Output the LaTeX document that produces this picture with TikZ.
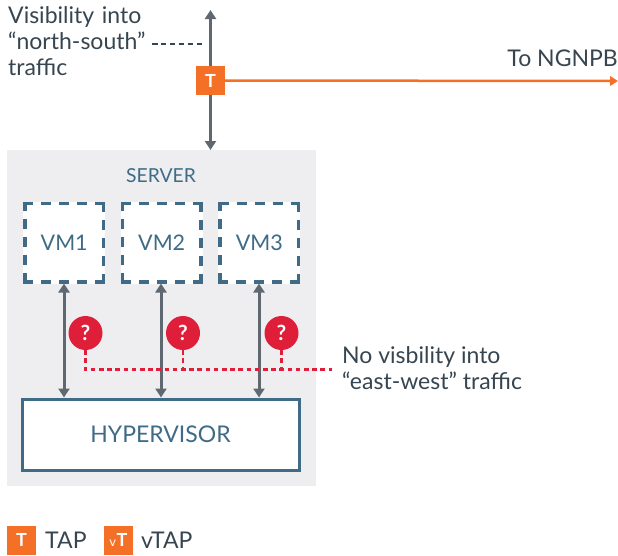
\documentclass[tikz,border=0pt]{standalone}
\usepackage{fontspec}
\setmainfont{Lato}
\usetikzlibrary{arrows.meta,calc}
\definecolor{ink}{HTML}{36454F}
\definecolor{teal}{HTML}{3F6B87}
\definecolor{greyarrow}{HTML}{5F6871}
\definecolor{orangetap}{HTML}{F47027}
\definecolor{redq}{HTML}{DF1F3A}
\definecolor{panel}{HTML}{EEEEF0}
\tikzset{
  x=1pt,y=-1pt,
  lbl/.style={text=ink,font=\fontsize{23}{26}\selectfont,inner sep=0,align=left},
  vmbox/.style={fill=white,minimum size=82pt,inner sep=0,outer sep=0,text=teal,font=\fontsize{21.5}{26}\selectfont},
  vmdash/.style={draw=teal,line width=3.3pt,dash pattern=on 16.7pt off 8pt on 10pt off 8pt on 10pt off 8pt on 10pt off 8pt,dash phase=47.5pt},
  hyper/.style={draw=teal,line width=3pt,fill=white,minimum width=277pt,minimum height=71pt,inner sep=0,text=teal,font=\fontsize{23}{26}\selectfont},
  tapbox/.style={fill=orangetap,minimum size=29pt,inner sep=0,text=white,font=\fontsize{18}{18}\selectfont\bfseries},
  qmark/.style={circle,fill=redq,minimum size=34pt,inner sep=0,text=white,font=\fontsize{21}{21}\selectfont\bfseries},
  biarrow/.style={draw=greyarrow,line width=3pt,{Triangle[length=9pt,width=11pt]}-{Triangle[length=9pt,width=11pt]}},
  reddash/.style={draw=redq,line width=2.1pt,dash pattern=on 4.6pt off 3.6pt},
  greydash/.style={draw=ink,line width=1.5pt,dash pattern=on 5.5pt off 3.4pt},
  orangearrow/.style={draw=orangetap,line width=2.5pt,-{Triangle[length=8pt,width=9.5pt]}},
}
\begin{document}
\begin{tikzpicture}
\useasboundingbox (0,0) rectangle (618,555);
\fill[panel] (7,150) rectangle (316,486);
\node[anchor=center,text=teal,inner sep=0,font=\fontsize{19.3}{20}\selectfont] (server) at (161,176) {SERVER};
\node[vmbox] (vm1) at (64.2,242.5) {VM1};
\node[vmbox] (vm2) at (161.7,242.5) {VM2};
\node[vmbox] (vm3) at (259.4,242.5) {VM3};
\foreach \v in {vm1,vm2,vm3}
  \draw[vmdash] ([yshift=-1.65pt]\v.north) -- ([xshift=-1.65pt,yshift=-1.65pt]\v.north east) -- ([xshift=-1.65pt,yshift=1.65pt]\v.south east) -- ([xshift=1.65pt,yshift=1.65pt]\v.south west) -- ([xshift=1.65pt,yshift=-1.65pt]\v.north west) -- cycle;
\node[hyper] (hv) at (160.5,434.5) {HYPERVISOR};
\coordinate (top) at (210.5,10);
\coordinate (srvtop) at (210.5,150);
\coordinate (nsend) at (204,44);
\coordinate (nsstart) at (152,44);
\coordinate (ngnpb) at (618,81);
\coordinate (ewcorner) at (85.5,369.5);
\coordinate (ewend) at (332,369.5);
\node[tapbox] (tap) at (210.5,80.5) {T};
\draw[biarrow] (top) -- (srvtop);
\node[tapbox] at (tap) {T};
\draw[orangearrow] (tap.east) -- (ngnpb);
\draw[greydash] (nsstart) -- (nsend);
\node[lbl,anchor=north west,text width=140pt] (vis) at (8,6) {Visibility into\\“north-south”\\traffic};
\node[lbl,anchor=east] (to) at (618,58) {To NGNPB};
\draw[biarrow] (vm1.south -| 64,0) -- (hv.north -| 64,0);
\draw[biarrow] (vm2.south -| 161,0) -- (hv.north -| 161,0);
\draw[biarrow] (vm3.south -| 259,0) -- (hv.north -| 259,0);
\node[qmark] (q1) at (85.5,333) {?};
\node[qmark] (q2) at (183,333) {?};
\node[qmark] (q3) at (281.5,333) {?};
\draw[reddash] (q1.south) -- (ewcorner) -- (ewend);
\draw[reddash] (q2.south) -- (q2.south |- ewend);
\draw[reddash] (q3.south) -- (q3.south |- ewend);
\node[lbl,anchor=north west] (no) at (342,346) {No visbility into\\“east-west” traffic};
\node[tapbox] (ltap) at (21.5,540) {T};
\node[lbl,anchor=west] (ltxt) at (45,540) {TAP};
\node[tapbox] (lvtap) at (118.5,540) {\raisebox{-0.5pt}{\fontsize{13}{13}\selectfont\mdseries v}\hspace{0.5pt}T};
\node[lbl,anchor=west] (lvtxt) at (141,540) {vTAP};
\end{tikzpicture}
\end{document}
